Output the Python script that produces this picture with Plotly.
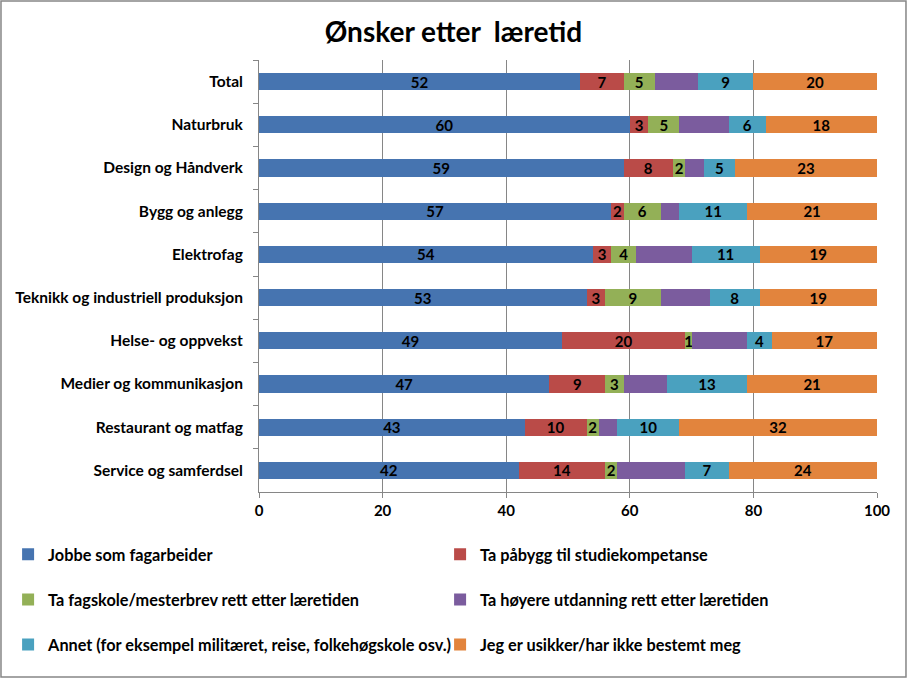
import plotly.graph_objects as go

categories = ["Total", "Naturbruk", "Design og Håndverk", "Bygg og anlegg", "Elektrofag",
              "Teknikk og industriell produksjon", "Helse- og oppvekst",
              "Medier og kommunikasjon", "Restaurant og matfag", "Service og samferdsel"]

series_names = ["Jobbe som fagarbeider", "Ta påbygg til studiekompetanse",
                "Ta fagskole/mesterbrev rett etter læretiden",
                "Ta høyere utdanning rett etter læretiden",
                "Annet (for eksempel militæret, reise, folkehøgskole osv.)",
                "Jeg er usikker/har ikke bestemt meg"]

jobbe = [52, 60, 59, 57, 54, 53, 49, 47, 43, 42]
paabygg = [7, 3, 8, 2, 3, 3, 20, 9, 10, 14]
fagskole = [5, 5, 2, 6, 4, 9, 1, 3, 2, 2]
hoyere = [7, 8, 3, 3, 9, 8, 9, 7, 3, 11]
annet = [9, 6, 5, 11, 11, 8, 4, 13, 10, 7]
usikker = [20, 18, 23, 21, 19, 19, 17, 21, 32, 24]

x_ticks = [0, 20, 40, 60, 80, 100]

colors = ["#4674B0", "#BA4B48", "#93B057", "#7B5C9E", "#4AA1BF", "#E2843D"]
values = [jobbe, paabygg, fagskole, hoyere, annet, usikker]
show_labels = [True, True, True, False, True, True]
legend_ids = ["legend", "legend", "legend2", "legend2", "legend3", "legend3"]

FONT = "Lato"
fig = go.Figure()
for name, vals, col, lab, lg in zip(series_names, values, colors, show_labels, legend_ids):
    fig.add_trace(go.Bar(
        y=categories, x=vals, name=name, orientation="h",
        marker=dict(color=col, line=dict(width=0)),
        text=vals if lab else None,
        textposition="inside", insidetextanchor="middle", textangle=0,
        textfont=dict(family=FONT, size=15, color="#000000", weight="bold"),
        constraintext="none",
        legend=lg,
    ))

leg_common = dict(orientation="h", entrywidth=387, xanchor="left", x=-0.406,
                  font=dict(family=FONT, size=16.3, color="#000000", weight="bold"),
                  bgcolor="rgba(0,0,0,0)", itemwidth=30, traceorder="normal")

fig.update_layout(
    barmode="stack",
    bargap=0.6,
    width=907, height=678,
    margin=dict(l=259, r=30, t=60, b=186, autoexpand=False),
    paper_bgcolor="white", plot_bgcolor="white",
    title=dict(text="Ønsker etter  læretid", x=0.5, xref="container", xanchor="center",
               y=0.953, yref="container", yanchor="middle",
               font=dict(family=FONT, size=28, color="#000000", weight="bold")),
    xaxis=dict(range=[0, 100], tickvals=x_ticks, showgrid=True, gridcolor="#868686",
               gridwidth=1, zeroline=False, showline=True, linecolor="#868686",
               ticks="outside", ticklen=5, tickcolor="#868686",
               tickfont=dict(family=FONT, size=15, color="#000000", weight="bold")),
    yaxis=dict(categoryorder="array", categoryarray=categories, autorange="reversed",
               showline=True, linecolor="#868686", ticks="outside", tickson="boundaries",
               ticklen=5, tickcolor="#868686", showgrid=False, ticklabelstandoff=12,
               tickfont=dict(family=FONT, size=15.5, color="#000000", weight="bold")),
    legend=dict(**leg_common, y=-0.145, yanchor="middle"),
    legend2=dict(**leg_common, y=-0.25, yanchor="middle"),
    legend3=dict(**leg_common, y=-0.354, yanchor="middle"),
    shapes=[dict(type="rect", xref="paper", yref="paper",
                 x0=-0.4175, x1=1.0469, y0=-0.428, y1=1.1366,
                 line=dict(color="#868686", width=1.5), fillcolor="rgba(0,0,0,0)",
                 layer="below")],
)

fig.write_html("out.html", config={"displayModeBar": False},
               post_script="document.body.style.margin='0px';")
